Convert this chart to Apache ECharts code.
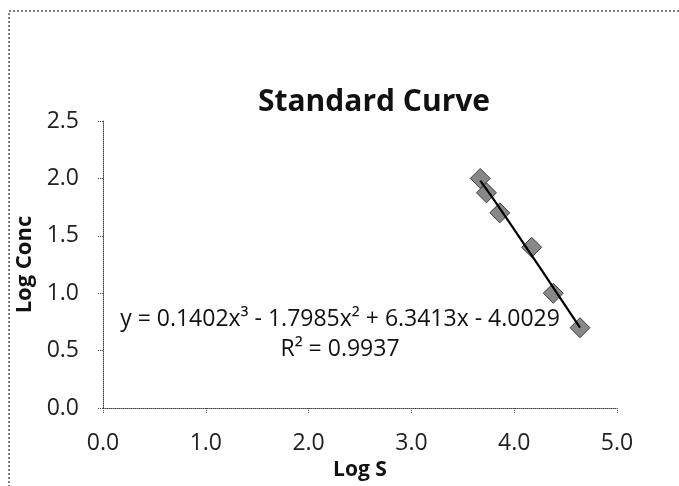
<!DOCTYPE html>
<html>
<head>
<meta charset="utf-8">
<script src="https://cdn.jsdelivr.net/npm/echarts@6/dist/echarts.min.js"></script>
<style>
  html, body { margin: 0; padding: 0; background: #fff; }
  #chart { width: 679px; height: 486px; }
</style>
</head>
<body>
<div id="chart"></div>
<script>
// 數據
var logS = [3.67, 3.73, 3.86, 4.17, 4.38, 4.64];
var logConc = [2.0, 1.875, 1.70, 1.40, 1.0, 0.70];
// 趨勢線
var trendS = [3.67, 3.86, 4.17, 4.38, 4.64];
var trendConc = [1.98, 1.74, 1.33, 1.05, 0.70];
var equationText = 'y = 0.1402x³ - 1.7985x² + 6.3413x - 4.0029';
var r2Text = 'R² = 0.9937';

document.addEventListener("DOMContentLoaded", function() {
    initChart();
});

function initChart() {
    var chart = echarts.init(document.getElementById('chart'));
    var font = '"Open Sans", "Noto Sans", sans-serif';

    var points = logS.map(function (x, i) { return [x, logConc[i]]; });
    var trend = trendS.map(function (x, i) { return [x, trendConc[i]]; });

    var axisLineStyle = { color: '#444', type: 'dotted', width: 1 };

    var option = {
        backgroundColor: '#fff',
        animation: false,
        textStyle: { fontFamily: font },
        title: [
            {
                text: 'Standard Curve',
                left: 369, top: 82, textAlign: 'center',
                textStyle: { fontSize: 30, fontWeight: 'bold', color: '#111', fontFamily: font }
            },
            {
                text: equationText,
                left: 335, top: 303, textAlign: 'center',
                textStyle: { fontSize: 23, fontWeight: 'normal', color: '#111', fontFamily: font }
            },
            {
                text: r2Text,
                left: 335, top: 333, textAlign: 'center',
                textStyle: { fontSize: 23, fontWeight: 'normal', color: '#111', fontFamily: font }
            }
        ],
        grid: { left: 103, right: 62, top: 121, bottom: 75 },
        xAxis: {
            type: 'value',
            min: 0, max: 5, interval: 1,
            name: 'Log S',
            nameLocation: 'middle',
            nameGap: 44,
            nameTextStyle: { fontSize: 21, fontWeight: 'bold', color: '#111' },
            axisLine: { show: true, lineStyle: axisLineStyle },
            axisTick: { show: true, inside: false, length: 6, lineStyle: axisLineStyle },
            axisLabel: {
                fontSize: 23, color: '#222', margin: 24,
                formatter: function (v) { return v.toFixed(1); }
            },
            splitLine: { show: false }
        },
        yAxis: {
            type: 'value',
            min: 0, max: 2.5, interval: 0.5,
            name: 'Log Conc',
            nameLocation: 'middle',
            nameGap: 60,
            nameTextStyle: { fontSize: 22, fontWeight: 'bold', color: '#111' },
            axisLine: { show: true, lineStyle: axisLineStyle },
            axisTick: { show: true, inside: false, length: 6, lineStyle: axisLineStyle },
            axisLabel: {
                fontSize: 23, color: '#222', margin: 24,
                formatter: function (v) { return v.toFixed(1); }
            },
            splitLine: { show: false }
        },
        series: [
            {
                name: 'Log Conc',
                type: 'scatter',
                data: points,
                symbol: 'diamond',
                symbolSize: 20,
                itemStyle: { color: '#6a6a6a', borderColor: '#222', borderWidth: 1 },
                z: 2
            },
            {
                name: 'Trend',
                type: 'line',
                data: trend,
                smooth: true,
                showSymbol: false,
                lineStyle: { color: '#000', width: 2.2 },
                z: 3
            }
        ],
        graphic: [
            {
                type: 'rect',
                shape: { x: 9, y: 11, width: 720, height: 520 },
                style: { fill: 'none', stroke: '#555', lineWidth: 1.5, lineDash: [2, 2] },
                silent: true
            }
        ]
    };
    chart.setOption(option);
}
</script>
</body>
</html>
